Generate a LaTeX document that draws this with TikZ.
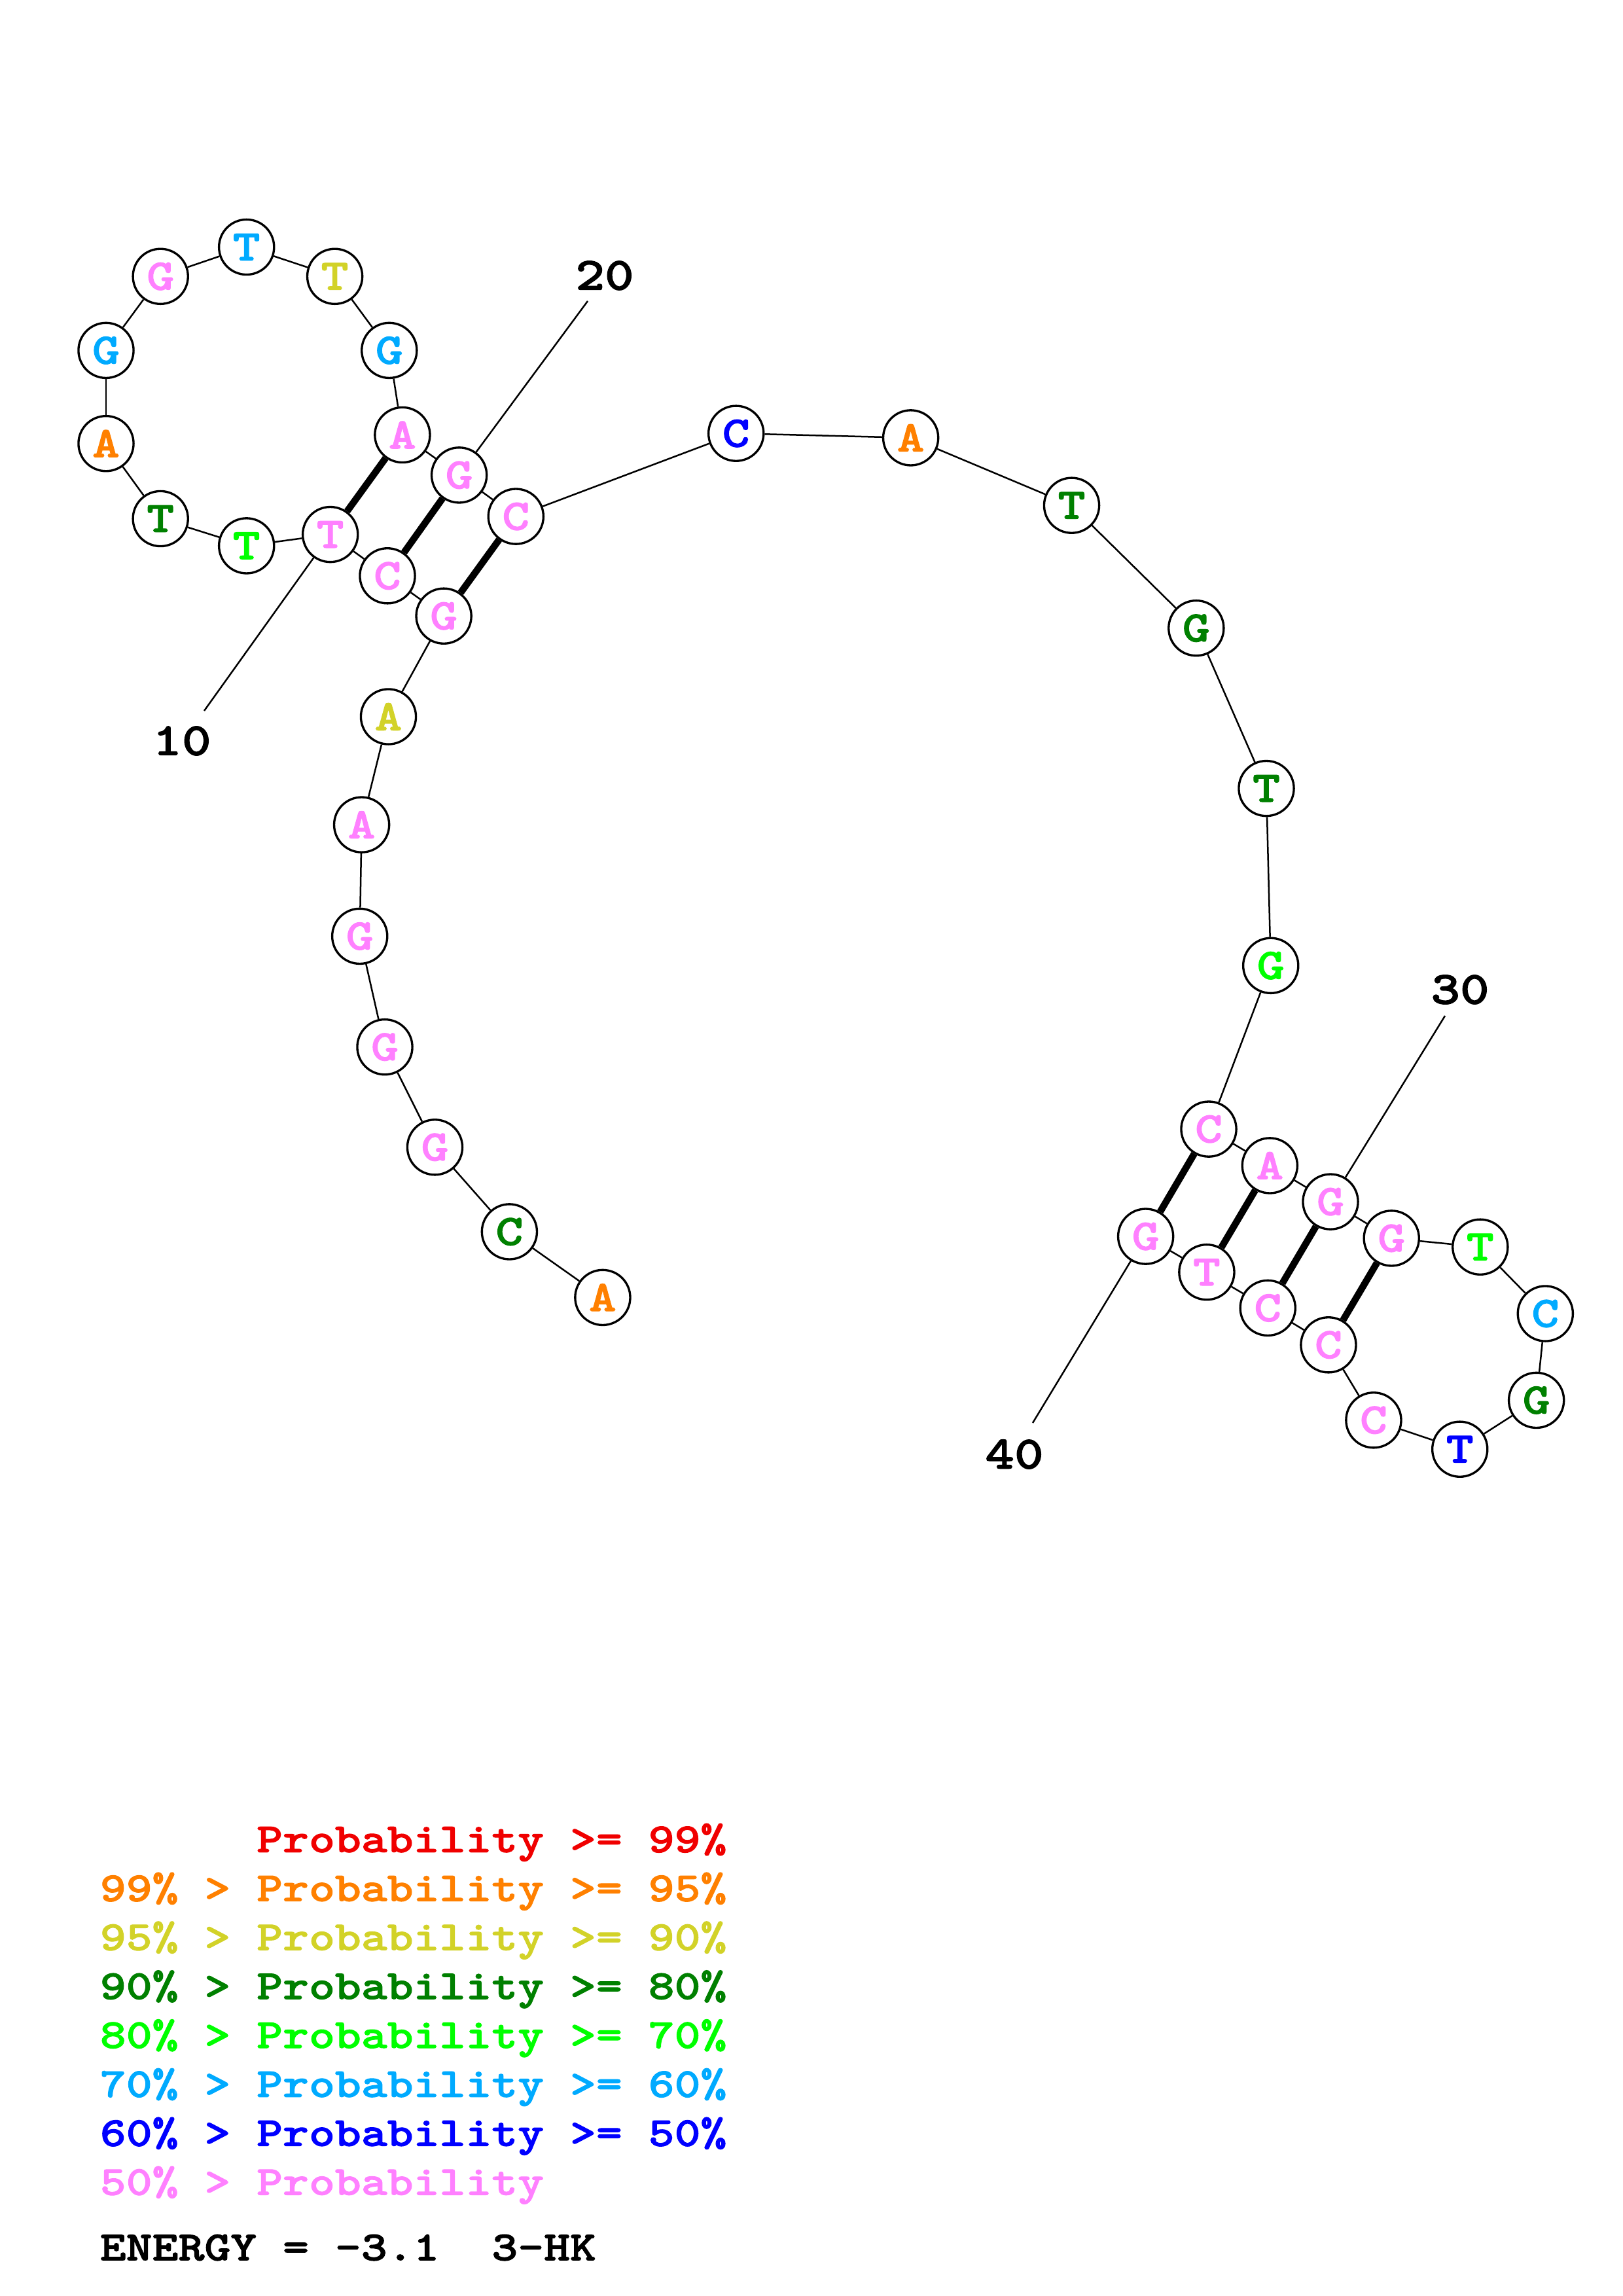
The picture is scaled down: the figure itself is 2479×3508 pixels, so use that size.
\documentclass[tikz,border=0pt]{standalone}
\usepackage{fontspec}
\IfFontExistsTF{lmmonolt10-bold.otf}
    {\newfontfamily\cour[FakeStretch=1.2,FakeBold=1.6]{lmmonolt10-bold.otf}}
    {\newfontfamily\cour[FakeStretch=0.9]{Liberation Mono Bold}}
\usepackage{xcolor}
\definecolor{pRed}{RGB}{240,0,0}
\definecolor{pOrange}{RGB}{255,128,0}
\definecolor{pYellow}{RGB}{210,210,40}
\definecolor{pDkgreen}{RGB}{0,128,0}
\definecolor{pGreen}{RGB}{0,255,0}
\definecolor{pLtblue}{RGB}{0,170,255}
\definecolor{pBlue}{RGB}{0,0,255}
\definecolor{pPink}{RGB}{255,128,255}
\tikzset{
    base/.style={circle,draw,line width=0.8pt,fill=white,minimum size=20.2pt,inner sep=0pt,
        font=\cour\fontsize{16}{16}\selectfont},
    bond/.style={line width=0.6pt},
    pair/.style={line width=2.5pt},
    num/.style={inner sep=0pt,font=\cour\fontsize{17}{17}\selectfont},
    legend/.style={anchor=west,inner sep=0pt,font=\cour\fontsize{15.2}{15.2}\selectfont}
}

\begin{document}
\begin{tikzpicture}[x=0.24pt,y=-0.24pt]%单位: 像素
        \useasboundingbox (0,0) rectangle (2479,3508);
        \foreach \i/\b/\c/\x/\y in {%碱基: 序号/字母/颜色/位置
            1/A/pOrange/920.9/1982.4, 2/C/pDkgreen/778.4/1881.9, 3/G/pPink/664.5/1752.8,
            4/G/pPink/588.0/1599.7, 5/G/pPink/549.7/1430.4, 6/A/pPink/552.6/1260.1,
            7/A/pYellow/593.5/1095.0, 8/G/pPink/678.1/941.2, 9/C/pPink/592.0/879.8,
            10/T/pPink/504.7/816.6, 11/T/pGreen/376.7/833.9, 12/T/pDkgreen/245.2/792.5,
            13/A/pOrange/162.0/677.7, 14/G/pLtblue/162.0/535.4, 15/G/pPink/245.2/422.3,
            16/T/pLtblue/376.7/377.5, 17/T/pYellow/511.6/422.3, 18/G/pLtblue/594.8/535.4,
            19/A/pPink/614.9/664.5, 20/G/pPink/701.6/725.9, 21/C/pPink/788.3/789.1,
            22/C/pBlue/1124.7/662.2, 23/A/pOrange/1391.6/668.9, 24/T/pDkgreen/1637.5/772.2,
            25/G/pDkgreen/1827.8/959.7, 26/T/pDkgreen/1935.0/1204.6, 27/G/pGreen/1941.7/1475.3,
            28/C/pPink/1847.0/1725.1, 29/A/pPink/1940.3/1780.9, 30/G/pPink/2033.0/1836.1,
            31/G/pPink/2126.2/1891.9, 32/T/pGreen/2261.8/1905.2, 33/C/pLtblue/2361.3/2007.0,
            34/G/pDkgreen/2347.6/2139.4, 35/T/pBlue/2230.7/2214.2, 36/C/pPink/2098.9/2169.8,
            37/C/pPink/2029.9/2054.8, 38/C/pPink/1937.2/1998.4, 39/T/pPink/1843.9/1943.7,
            40/G/pPink/1750.6/1889.1}
        {
            \node[base,text=\c] (n\i) at (\x,\y) {\b};
        }
        \foreach \i in {1,...,39}%主链
        {
            \pgfmathtruncatemacro{\j}{\i+1}
            \draw[bond] (n\i)--(n\j);
        }
        \foreach \a/\b in {10/19,9/20,8/21,28/40,29/39,30/38,31/37}%配对
        {
            \draw[pair] (n\a)--(n\b);
        }
        \foreach \i/\tx/\ty/\lx/\ly in {10/312/1086/278/1132, 20/898/460/924/421,
            30/2208/1552/2231/1512, 40/1578/2174/1550/2222}%序号标记
        {
            \coordinate (t\i) at (\tx,\ty);
            \node[num] (lab\i) at (\lx,\ly) {\i};
            \draw[bond] (n\i)--(t\i);
        }
        \node[legend,text=pRed] (leg0) at (152,2815) {\phantom{99\% > }Probability >= 99\%};
        \foreach \k/\hi/\lo/\c in {1/99/95/pOrange, 2/95/90/pYellow, 3/90/80/pDkgreen,
            4/80/70/pGreen, 5/70/60/pLtblue, 6/60/50/pBlue}
        {
            \node[legend,text=\c] (leg\k) at (152,2815+74.8*\k) {\hi\% > Probability >= \lo\%};
        }
        \node[legend,text=pPink] (leg7) at (152,3338.6) {50\% > Probability};
        \node[legend] (energy) at (152,3434) {ENERGY = -3.1~~3-HK};
        \end{tikzpicture}
\end{document}
